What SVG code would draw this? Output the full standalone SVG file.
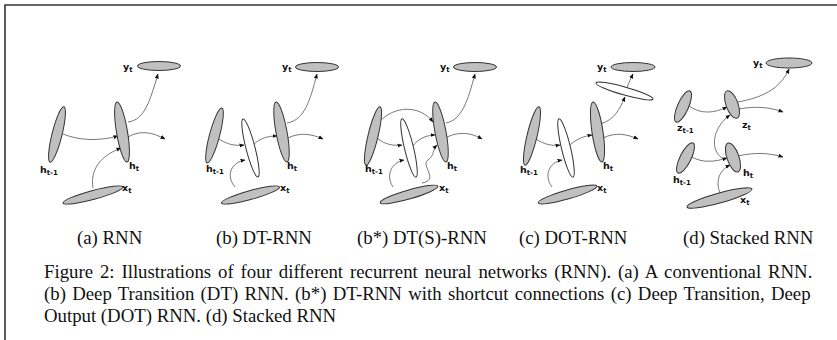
<svg xmlns="http://www.w3.org/2000/svg" width="837" height="340" viewBox="0 0 837 340">
<defs>
<marker id="ah" viewBox="0 0 10 10" refX="9" refY="5" markerWidth="5" markerHeight="5" orient="auto" markerUnits="userSpaceOnUse">
<path d="M0,1 L10,5 L0,9 Z" fill="#111"/>
</marker>
<style>
.g{fill:#c0c0c0;stroke:#333;stroke-width:1}
.w{fill:#fff;stroke:#333;stroke-width:1}
.c{fill:none;stroke:#555;stroke-width:0.8;marker-end:url(#ah)}
.l{font-family:"DejaVu Sans",sans-serif;font-weight:bold;font-size:9.5px;fill:#111}
.s{font-size:7px}
.cap{font-family:"Liberation Serif","Times New Roman",serif;font-size:18.8px;fill:#111}
</style>
</defs>
<rect width="837" height="340" fill="#fff"/>
<path d="M5,340 V5 H837" fill="none" stroke="#333" stroke-width="1.6"/>

<g id="connectors">
<path class="c" d="M63,134 C80,141 100,141 118,136"/>
<path class="c" d="M93,188 C90,170 100,156 121,148"/>
<path class="c" d="M128,122 C145,120 150,100 158,74"/>
<path class="c" d="M128,137 C140,130 152,132 165,139"/>

<path class="c" d="M219,139 C228,145 236,146 244,145"/>
<path class="c" d="M253,145 C260,138 268,136 277,136"/>
<path class="c" d="M235,187 C225,175 232,162 245,160"/>
<path class="c" d="M287,123 C305,120 310,100 317,74"/>
<path class="c" d="M288,138 C300,132 312,134 323,139"/>

<path class="c" d="M379,122 C395,105 420,105 433,122"/>
<path class="c" d="M377,138 C385,145 395,146 402,145"/>
<path class="c" d="M412,147 C418,138 428,135 435,135"/>
<path class="c" d="M393,187 C385,175 392,162 404,160"/>
<path class="c" d="M422,183 C440,180 420,165 428,160 C435,155 432,150 437,145"/>
<path class="c" d="M446,123 C462,120 468,100 475,74"/>
<path class="c" d="M447,137 C460,131 472,133 482,139"/>

<path class="c" d="M536,139 C545,145 553,146 560,145"/>
<path class="c" d="M568,147 C575,139 585,136 592,135"/>
<path class="c" d="M552,187 C543,175 550,162 562,160"/>
<path class="c" d="M600,124 C615,120 620,108 625,97"/>
<path class="c" d="M627,88 C629,82 631,78 633,74"/>
<path class="c" d="M603,138 C615,132 627,134 638,139"/>

<path class="c" d="M688,105 C700,115 715,113 727,107"/>
<path class="c" d="M738,102 C760,98 780,90 789,69"/>
<path class="c" d="M739,109 C755,106 770,107 783,112"/>
<path class="c" d="M722,158 C710,150 712,128 730,115"/>
<path class="c" d="M692,157 C702,163 715,162 727,158"/>
<path class="c" d="M738,156 C755,152 770,153 783,157"/>
<path class="c" d="M720,193 C715,180 720,170 730,165"/>
</g>

<g id="a-hprev"><ellipse class="g" cx="0" cy="0" rx="5" ry="28.5" transform="translate(57,134.5) rotate(14)"/><text class="l" x="40" y="173">h<tspan class="s" dy="2">t-1</tspan></text></g>
<g id="a-ht"><ellipse class="g" cx="0" cy="0" rx="5.5" ry="30.5" transform="translate(122,132) rotate(-9.5)"/><text class="l" x="129" y="169">h<tspan class="s" dy="2">t</tspan></text></g>
<g id="a-yt"><ellipse class="g" cx="159" cy="66" rx="21.5" ry="4.5"/><text class="l" x="123" y="70">y<tspan class="s" dy="2">t</tspan></text></g>
<g id="a-xt"><ellipse class="g" cx="0" cy="0" rx="31" ry="4.5" transform="translate(93,195) rotate(-15)"/><text class="l" x="122" y="191">x<tspan class="s" dy="2">t</tspan></text></g>

<g id="b-hprev"><ellipse class="g" cx="0" cy="0" rx="5" ry="28.5" transform="translate(214.5,135.5) rotate(15)"/><text class="l" x="206" y="172">h<tspan class="s" dy="2">t-1</tspan></text></g>
<g id="b-mid"><ellipse class="w" cx="0" cy="0" rx="4.5" ry="30" transform="translate(250.5,148) rotate(-14.5)"/></g>
<g id="b-ht"><ellipse class="g" cx="0" cy="0" rx="5.5" ry="30.5" transform="translate(281.5,132) rotate(-10.4)"/><text class="l" x="287" y="169">h<tspan class="s" dy="2">t</tspan></text></g>
<g id="b-yt"><ellipse class="g" cx="317" cy="67" rx="21.5" ry="4.5"/><text class="l" x="282" y="70">y<tspan class="s" dy="2">t</tspan></text></g>
<g id="b-xt"><ellipse class="g" cx="0" cy="0" rx="30" ry="4.5" transform="translate(250.5,195) rotate(-15.5)"/><text class="l" x="280" y="191">x<tspan class="s" dy="2">t</tspan></text></g>

<g id="bs-hprev"><ellipse class="g" cx="0" cy="0" rx="5" ry="30" transform="translate(373,136) rotate(13.5)"/><text class="l" x="365" y="172">h<tspan class="s" dy="2">t-1</tspan></text></g>
<g id="bs-mid"><ellipse class="w" cx="0" cy="0" rx="4.5" ry="30" transform="translate(409,148) rotate(-13.5)"/></g>
<g id="bs-ht"><ellipse class="g" cx="0" cy="0" rx="5.5" ry="30.5" transform="translate(440.5,132) rotate(-10.5)"/><text class="l" x="447" y="169">h<tspan class="s" dy="2">t</tspan></text></g>
<g id="bs-yt"><ellipse class="g" cx="475" cy="67" rx="21.5" ry="4.5"/><text class="l" x="440" y="70">y<tspan class="s" dy="2">t</tspan></text></g>
<g id="bs-xt"><ellipse class="g" cx="0" cy="0" rx="30" ry="4.5" transform="translate(409,194.5) rotate(-16)"/><text class="l" x="439" y="191">x<tspan class="s" dy="2">t</tspan></text></g>

<g id="c-hprev"><ellipse class="g" cx="0" cy="0" rx="5" ry="30" transform="translate(532,136) rotate(13.5)"/><text class="l" x="520" y="173">h<tspan class="s" dy="2">t-1</tspan></text></g>
<g id="c-mid"><ellipse class="w" cx="0" cy="0" rx="4.5" ry="30" transform="translate(566,148) rotate(-13.5)"/></g>
<g id="c-ht"><ellipse class="g" cx="0" cy="0" rx="5.5" ry="30.3" transform="translate(597.5,132) rotate(-8.5)"/><text class="l" x="603" y="169">h<tspan class="s" dy="2">t</tspan></text></g>
<g id="c-out"><ellipse class="w" cx="0" cy="0" rx="29.6" ry="4" transform="translate(624.5,91) rotate(15.7)"/></g>
<g id="c-yt"><ellipse class="g" cx="633" cy="67" rx="22" ry="4.5"/><text class="l" x="597" y="70">y<tspan class="s" dy="2">t</tspan></text></g>
<g id="c-xt"><ellipse class="g" cx="0" cy="0" rx="30.5" ry="4.5" transform="translate(567.5,194.5) rotate(-16)"/><text class="l" x="597" y="191">x<tspan class="s" dy="2">t</tspan></text></g>

<g id="d-zprev"><ellipse class="g" cx="0" cy="0" rx="5.5" ry="17" transform="translate(683,106.5) rotate(24)"/><text class="l" x="677" y="131">z<tspan class="s" dy="2">t-1</tspan></text></g>
<g id="d-zt"><ellipse class="g" cx="0" cy="0" rx="6" ry="14.5" transform="translate(732,104.5) rotate(-20)"/><text class="l" x="742" y="128">z<tspan class="s" dy="2">t</tspan></text></g>
<g id="d-hprev"><ellipse class="g" cx="0" cy="0" rx="5.5" ry="16.8" transform="translate(685.5,158) rotate(26.5)"/><text class="l" x="673" y="183">h<tspan class="s" dy="2">t-1</tspan></text></g>
<g id="d-ht"><ellipse class="g" cx="0" cy="0" rx="6" ry="15.3" transform="translate(733,157.5) rotate(-19)"/><text class="l" x="743" y="176">h<tspan class="s" dy="2">t</tspan></text></g>
<g id="d-yt"><ellipse class="g" cx="789" cy="63" rx="23" ry="5"/><text class="l" x="753" y="66">y<tspan class="s" dy="2">t</tspan></text></g>
<g id="d-xt"><ellipse class="g" cx="0" cy="0" rx="33.7" ry="5" transform="translate(719.5,198) rotate(-15.5)"/><text class="l" x="740" y="203">x<tspan class="s" dy="2">t</tspan></text></g>

<g id="labels">
<text class="cap" x="77" y="244">(a) RNN</text>
<text class="cap" x="216" y="244">(b) DT-RNN</text>
<text class="cap" x="357" y="244">(b*) DT(S)-RNN</text>
<text class="cap" x="519" y="244">(c) DOT-RNN</text>
<text class="cap" x="683" y="244">(d) Stacked RNN</text>
</g>
<g id="caption">
<text class="cap" x="44" y="278" word-spacing="2.2">Figure 2: Illustrations of four different recurrent neural networks (RNN). (a) A conventional RNN.</text>
<text class="cap" x="44" y="300" word-spacing="1.6">(b) Deep Transition (DT) RNN. (b*) DT-RNN with shortcut connections (c) Deep Transition, Deep</text>
<text class="cap" x="44" y="322">Output (DOT) RNN. (d) Stacked RNN</text>
</g>
</svg>
